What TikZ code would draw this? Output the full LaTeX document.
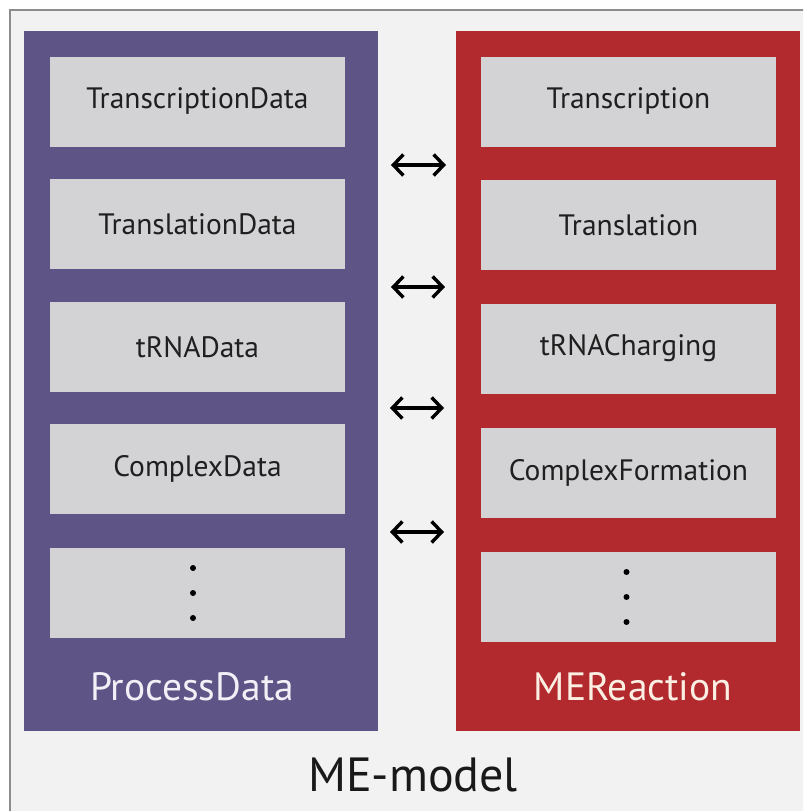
\documentclass[tikz,border=0pt]{standalone}
\usepackage{fontspec}
\setmainfont{PT Sans}
\usetikzlibrary{arrows.meta,calc}
\definecolor{bgc}{HTML}{F2F2F2}
\definecolor{bordc}{HTML}{8C8C8C}
\definecolor{pdc}{HTML}{5E5486}
\definecolor{mec}{HTML}{B22A2E}
\definecolor{boxc}{HTML}{D3D3D5}
\definecolor{pdtext}{HTML}{F2F0F7}
\definecolor{metext}{HTML}{FBEEE2}
\tikzset{
  panel/.style={rectangle, draw=none, inner sep=0pt},
  gbox/.style={rectangle, fill=boxc, draw=none, inner sep=0pt, minimum width=295pt, minimum height=90pt, font=\fontsize{29.5}{34}\selectfont, text=black!88},
  plabel/.style={font=\fontsize{39.5}{45}\selectfont, inner sep=0pt},
  biarrow/.style={line width=3.4pt, {Straight Barb[length=10pt,width=21pt]}-{Straight Barb[length=10pt,width=21pt]}},
  dotc/.style={fill=black}
}
\begin{document}
\begin{tikzpicture}[x=1pt,y=-1pt]
\useasboundingbox (0,0) rectangle (803,811);
\fill[white] (0,0) rectangle (803,811);
\begin{scope}
\clip (0,0) rectangle (803,811);
\draw[bordc, line width=2pt, fill=bgc] (10,10) rectangle (830,840);
\end{scope}
% panels
\node[panel, fill=pdc, minimum width=354pt, minimum height=700pt] (pd) at (201,381) {};
\node[panel, fill=mec, minimum width=344pt, minimum height=700pt] (me) at (628,381) {};
% left boxes
\node[gbox] (l1) at (197.5,101.5) {TranscriptionData};
\node[gbox] (l2) at (197.5,224) {TranslationData};
\node[gbox] (l3) at (197.5,347) {tRNAData};
\node[gbox] (l4) at (197.5,469) {ComplexData};
\node[gbox] (l5) at (197.5,593) {};
% right boxes
\node[gbox] (r1) at (628.5,101.5) {Transcription};
\node[gbox] (r2) at (628.5,225) {Translation};
\node[gbox] (r3) at (628.5,348.5) {tRNACharging};
\node[gbox] (r4) at (628.5,472.5) {ComplexFormation};
\node[gbox] (r5) at (628.5,597) {};
% dots
\foreach \d in {-25,0,25} {
  \fill[dotc] ($(l5.center)+(-4.5,\d)$) circle (3pt);
  \fill[dotc] ($(r5.center)+(-2,\d)$) circle (3pt);
}
% labels
\node[plabel, text=pdtext] (pdl) at (192,687) {ProcessData};
\node[plabel, text=metext] (mel) at (633,687) {MEReaction};
\node[font=\fontsize{48}{54}\selectfont, inner sep=0pt, text=black!90] (mm) at (413,775) {ME-model};
% arrows
\coordinate (a1l) at (391,165); \coordinate (a1r) at (446,165);
\coordinate (a2l) at (391,287); \coordinate (a2r) at (445,287);
\coordinate (a3l) at (390,408); \coordinate (a3r) at (444,408);
\coordinate (a4l) at (390,532); \coordinate (a4r) at (444,532);
\draw[biarrow] (a1l) -- (a1r);
\draw[biarrow] (a2l) -- (a2r);
\draw[biarrow] (a3l) -- (a3r);
\draw[biarrow] (a4l) -- (a4r);
\end{tikzpicture}
\end{document}
